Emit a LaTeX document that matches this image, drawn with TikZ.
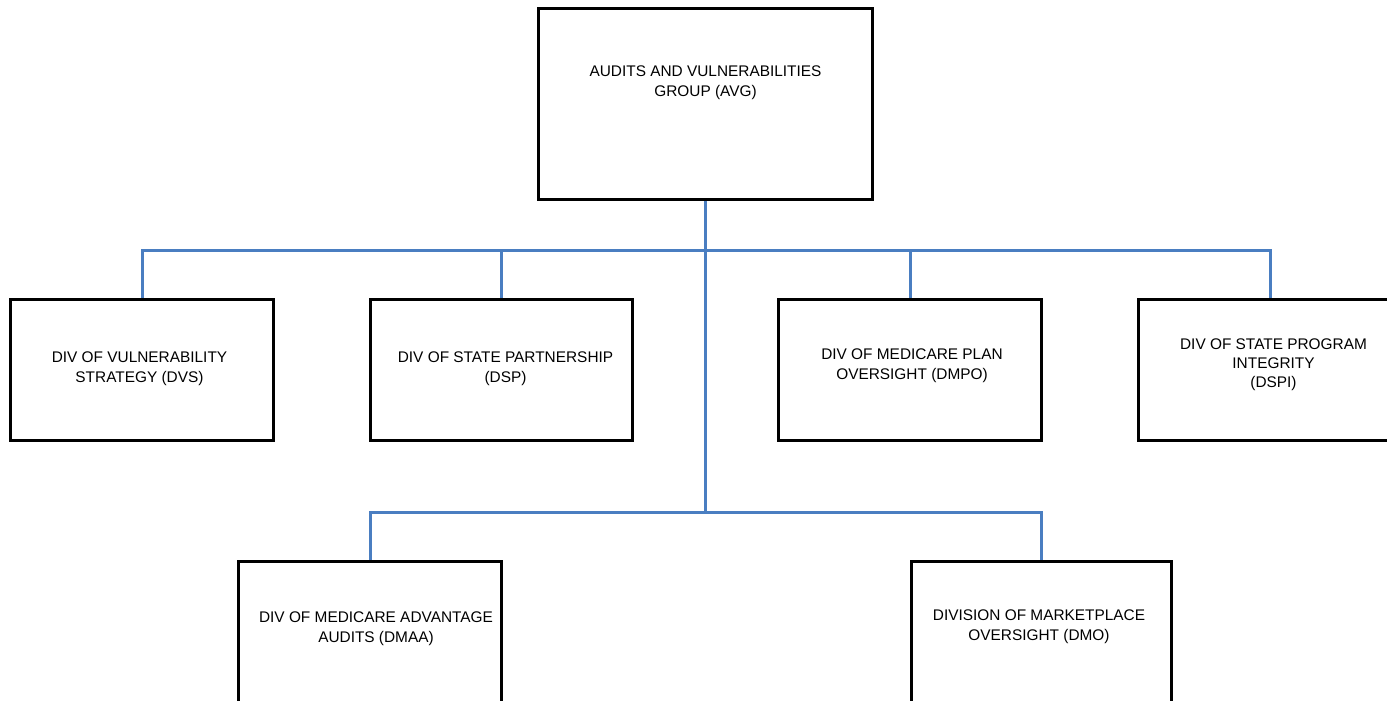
\documentclass[tikz,border=0pt]{standalone}
\usepackage{fontspec}
\setmainfont{Liberation Sans}
\begin{document}
\begin{tikzpicture}[x=1pt,y=-1pt,
  box/.style={draw=black,line width=3pt,fill=white,rectangle,inner sep=0pt,minimum width=#1},
  box/.default=263pt,
  lbl/.style={align=center,inner sep=0pt,font=\fontsize{15.4pt}{20pt}\selectfont},
  conn/.style={draw={rgb,255:red,74;green,126;blue,193},line width=3pt}]
\clip (0,0) rectangle (1387,701);
\fill[white] (0,0) rectangle (1387,701);
% boxes
\node[box=334pt,minimum height=190.5pt] (top) at (705.5,104) {};
\node[box=263pt,minimum height=141pt] (b1) at (142,370) {};
\node[box=262pt,minimum height=141pt] (b2) at (501.5,370) {};
\node[box=263pt,minimum height=141pt] (b3) at (910,370) {};
\node[box=263pt,minimum height=141pt] (b4) at (1270,370) {};
\node[box=263pt,minimum height=160pt] (b5) at (370,641.5) {};
\node[box=260pt,minimum height=160pt] (b6) at (1041.5,641.5) {};
% junctions
\coordinate (j1) at (705.5,250.5);
\coordinate (j2) at (705.5,512);
% connectors
\draw[conn] (top.south) -- (j2);
\draw[conn] (b1.north) |- (j1) -| (b4.north);
\draw[conn] (b2.north) |- (j1);
\draw[conn] (b3.north) |- (j1);
\draw[conn] (b5.north) |- (j2) -| (b6.north);
% labels
\node[lbl] (ttop) at (705.5,83) {AUDITS AND VULNERABILITIES\\GROUP (AVG)};
\node[lbl] (t1) at (139.5,368.5) {DIV OF VULNERABILITY\\STRATEGY (DVS)};
\node[lbl] (t2) at (505.5,369) {DIV OF STATE PARTNERSHIP\\(DSP)};
\node[lbl] (t3) at (912,366) {DIV OF MEDICARE PLAN\\OVERSIGHT (DMPO)};
\node[lbl,font=\fontsize{15.4pt}{19pt}\selectfont] (t4) at (1273.5,364.5) {DIV OF STATE PROGRAM\\INTEGRITY\\(DSPI)};
\node[lbl] (t5) at (376,628.5) {DIV OF MEDICARE ADVANTAGE\\AUDITS (DMAA)};
\node[lbl] (t6) at (1039,626.5) {DIVISION OF MARKETPLACE\\OVERSIGHT (DMO)};
\end{tikzpicture}
\end{document}
